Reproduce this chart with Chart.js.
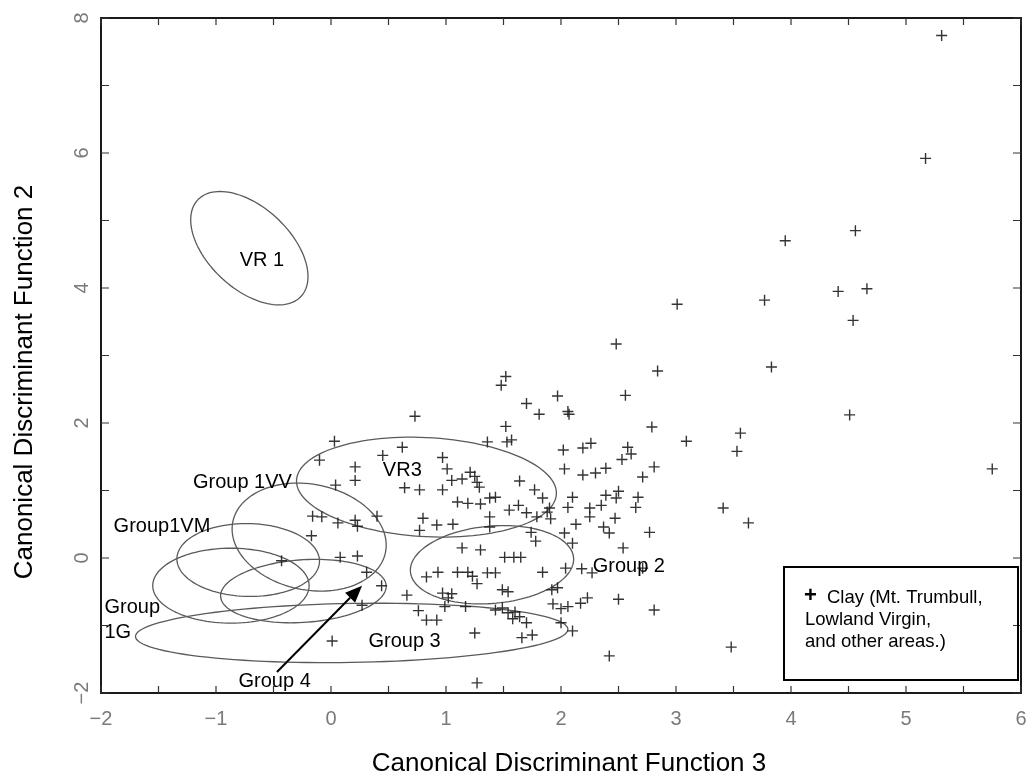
<!DOCTYPE html>
<html>
<head>
<meta charset="utf-8">
<script src="https://cdn.jsdelivr.net/npm/chart.js@4.4.0/dist/chart.umd.min.js"></script>
<style>
  html, body { margin: 0; padding: 0; background: #fff; }
  #wrap { width: 1032px; height: 775px; }
</style>
</head>
<body>
<div id="wrap"><canvas id="cdf" width="1032" height="775"></canvas></div>
<script>
// ── Clay samples: x = Canonical Discriminant Function 3, y = Function 2 ──
const clayX = [
  5.31, 5.17, 3.95, 4.56, 4.41, 4.66, 3.77, 4.54, 3.01, 2.48,
  2.84, 3.83, 1.52, 1.48, 1.97, 2.56, 1.70, 1.81, 2.06, 2.07,
  4.51, 0.73, 1.52, 2.79, 3.56, 3.09, 3.53, 5.75, 0.03, 1.36,
  1.53, 1.57, 2.02, 2.19, 2.26, 2.58, 2.61, 2.53, -0.10, 0.21,
  0.21, 0.45, 0.62, 0.97, 1.01, 2.03, 2.19, 2.30, 2.39, 2.81,
  2.71, 1.21, 1.25, 1.27, 1.05, 1.14, 0.04, 0.64, 0.77, 0.97,
  1.29, 1.64, 1.77, 1.84, 2.10, 2.39, 2.50, 2.67, 2.65, 2.48,
  2.35, 2.25, 2.06, 3.41, 3.63, 1.10, 1.19, 1.30, 1.38, 1.43,
  1.55, 1.63, 1.70, 1.79, 1.88, 1.90, 1.91, 2.25, 2.13, 2.47,
  2.37, 2.42, 2.77, 2.03, 2.10, 1.74, 1.78, 2.54, 1.38, 1.38,
  -0.16, -0.08, 0.06, 0.21, 0.23, 0.40, 0.80, 0.77, 0.92, 1.06,
  -0.17, 0.08, 0.23, -0.43, 0.31, 0.44, 0.27, 0.66, 0.01, 1.25,
  1.27, 1.14, 1.30, 1.51, 1.59, 1.65, 0.83, 0.93, 1.10, 1.19,
  1.23, 1.27, 1.36, 1.43, 1.49, 1.54, 0.97, 1.02, 1.05, 0.99,
  1.17, 0.76, 0.83, 0.92, 1.43, 1.49, 1.54, 1.60, 1.58, 1.64,
  1.70, 1.84, 2.04, 2.18, 2.27, 2.71, 1.92, 1.97, 1.93, 2.00,
  2.06, 2.17, 2.23, 2.50, 2.81, 1.75, 1.66, 2.00, 2.10, 2.42,
  3.48
]
const clayY = [
  7.74, 5.92, 4.70, 4.85, 3.95, 3.99, 3.82, 3.52, 3.76, 3.17,
  2.77, 2.83, 2.69, 2.56, 2.40, 2.41, 2.29, 2.13, 2.17, 2.13,
  2.12, 2.10, 1.95, 1.94, 1.85, 1.73, 1.58, 1.32, 1.73, 1.72,
  1.72, 1.75, 1.60, 1.63, 1.70, 1.64, 1.54, 1.46, 1.45, 1.35,
  1.15, 1.52, 1.64, 1.49, 1.32, 1.32, 1.23, 1.26, 1.33, 1.35,
  1.20, 1.27, 1.21, 1.12, 1.15, 1.17, 1.08, 1.04, 1.01, 1.01,
  1.05, 1.14, 1.01, 0.89, 0.90, 0.93, 0.99, 0.90, 0.75, 0.89,
  0.78, 0.74, 0.75, 0.74, 0.52, 0.83, 0.81, 0.80, 0.89, 0.90,
  0.71, 0.78, 0.67, 0.61, 0.68, 0.74, 0.58, 0.61, 0.50, 0.59,
  0.46, 0.37, 0.38, 0.37, 0.22, 0.38, 0.25, 0.15, 0.61, 0.46,
  0.62, 0.61, 0.52, 0.56, 0.47, 0.62, 0.59, 0.41, 0.49, 0.50,
  0.33, 0.01, 0.03, -0.04, -0.21, -0.41, -0.70, -0.55, -1.23, -1.11,
  -1.85, 0.15, 0.12, 0.01, 0.01, 0.01, -0.28, -0.21, -0.21, -0.21,
  -0.27, -0.38, -0.22, -0.22, -0.47, -0.50, -0.52, -0.59, -0.53, -0.72,
  -0.72, -0.78, -0.92, -0.92, -0.77, -0.74, -0.81, -0.80, -0.90, -0.87,
  -0.96, -0.21, -0.15, -0.16, -0.22, -0.15, -0.47, -0.44, -0.68, -0.75,
  -0.72, -0.67, -0.59, -0.61, -0.77, -1.14, -1.18, -0.96, -1.08, -1.45,
  -1.32
]

// ── Group ellipses: centre, half extent along x / y, tilt (correlation) ──
const groupNames = ["VR 1", "Group1VM", "Group 1VV", "VR3", "Group 2", "Group 4", "Group 1G", "Group 3"]
const groupCX    = [-0.71, -0.72, -0.19, 0.83, 1.40, -0.24, -0.87, 0.18]
const groupCY    = [ 4.59, -0.03,  0.31, 1.05, -0.10, -0.49, -0.41, -1.11]
const groupRX    = [ 0.51,  0.62,  0.67, 1.13, 0.71,  0.72,  0.68, 1.88]
const groupRY    = [ 0.84,  0.54,  0.80, 0.74, 0.58,  0.47,  0.555, 0.44]
const groupRho   = [-0.50, -0.03, -0.15, -0.12, 0.14, 0.15,  0.00, 0.12]

// ── Text labels placed in data coordinates ──
const noteText  = ["VR 1", "VR3", "Group 1VV", "Group1VM", "Group", "1G", "Group 3", "Group 2", "Group 4"]
const noteX     = [-0.60, 0.62, -0.77, -1.47, -1.97, -1.97, 0.64, 2.59, -0.49]
const noteY     = [ 4.41, 1.29,  1.12,  0.46, -0.74, -1.11, -1.23, -0.13, -1.83]
const noteAlign = ["center", "center", "center", "center", "left", "left", "center", "center", "center"]

// arrow from the "Group 4" label into its ellipse
const arrowFrom = [-0.47, -1.69]
const arrowTo   = [0.27, -0.41]

const xTickLabels = [-2, -1, 0, 1, 2, 3, 4, 5, 6]
const yTickLabels = [-2, 0, 2, 4, 6, 8]

const fmt = v => (v < 0 ? "\u2212" + Math.abs(v) : String(v))
const FONT = "'Liberation Sans', Arial, sans-serif"

// ── Plugin: ellipses (behind the points) ─────────────────────────────────
const ellipsePlugin = {
  id: "ellipses",
  beforeDatasetsDraw(chart) {
    const { ctx, scales: { x, y }, chartArea } = chart
    ctx.save()
    ctx.beginPath()
    ctx.rect(chartArea.left, chartArea.top, chartArea.width, chartArea.height)
    ctx.clip()
    ctx.strokeStyle = "#5a5a5a"
    ctx.lineWidth = 1.3
    groupNames.forEach((name, i) => {
      const s = Math.sqrt(1 - groupRho[i] * groupRho[i])
      ctx.beginPath()
      for (let k = 0; k <= 120; k++) {
        const t = (k / 120) * Math.PI * 2
        const dx = groupCX[i] + groupRX[i] * Math.cos(t)
        const dy = groupCY[i] + groupRY[i] * (groupRho[i] * Math.cos(t) + s * Math.sin(t))
        const px = x.getPixelForValue(dx)
        const py = y.getPixelForValue(dy)
        if (k === 0) ctx.moveTo(px, py)
        else ctx.lineTo(px, py)
      }
      ctx.closePath()
      ctx.stroke()
    })
    ctx.restore()
  }
}

// ── Plugin: labels, arrow, frame, inward ticks, y labels, titles, legend ─
const decorPlugin = {
  id: "decor",
  afterDatasetsDraw(chart) {
    const { ctx, scales: { x, y } } = chart
    ctx.save()
    ctx.fillStyle = "#000"
    ctx.font = "20px " + FONT
    ctx.textBaseline = "middle"
    noteText.forEach((txt, i) => {
      ctx.textAlign = noteAlign[i]
      ctx.fillText(txt, x.getPixelForValue(noteX[i]), y.getPixelForValue(noteY[i]))
    })

    // arrow
    const x0 = x.getPixelForValue(arrowFrom[0]), y0 = y.getPixelForValue(arrowFrom[1])
    const x1 = x.getPixelForValue(arrowTo[0]),   y1 = y.getPixelForValue(arrowTo[1])
    const ang = Math.atan2(y1 - y0, x1 - x0)
    const head = 17, half = 7
    const bx = x1 - head * Math.cos(ang), by = y1 - head * Math.sin(ang)
    ctx.strokeStyle = "#000"
    ctx.lineWidth = 2
    ctx.beginPath()
    ctx.moveTo(x0, y0)
    ctx.lineTo(bx, by)
    ctx.stroke()
    ctx.beginPath()
    ctx.moveTo(x1, y1)
    ctx.lineTo(bx + half * Math.sin(ang), by - half * Math.cos(ang))
    ctx.lineTo(bx - half * Math.sin(ang), by + half * Math.cos(ang))
    ctx.closePath()
    ctx.fill()
    ctx.restore()
  },
  afterDraw(chart) {
    const { ctx, chartArea: a, scales: { x, y } } = chart
    ctx.save()

    // frame
    ctx.strokeStyle = "#1a1a1a"
    ctx.lineWidth = 2
    ctx.strokeRect(a.left, a.top, a.width, a.height)

    // inward ticks
    ctx.lineWidth = 1.2
    ctx.strokeStyle = "#333"
    ctx.beginPath()
    x.ticks.forEach(t => {
      const px = x.getPixelForValue(t.value)
      ctx.moveTo(px, a.bottom); ctx.lineTo(px, a.bottom - 7)
      ctx.moveTo(px, a.top);    ctx.lineTo(px, a.top + 7)
    })
    y.ticks.forEach(t => {
      const py = y.getPixelForValue(t.value)
      ctx.moveTo(a.left, py);  ctx.lineTo(a.left + 8, py)
      ctx.moveTo(a.right, py); ctx.lineTo(a.right - 8, py)
    })
    ctx.stroke()

    // rotated y tick labels
    ctx.fillStyle = "#7a7a7a"
    ctx.font = "20px " + FONT
    ctx.textAlign = "center"
    ctx.textBaseline = "middle"
    yTickLabels.forEach(v => {
      ctx.save()
      ctx.translate(a.left - 19, y.getPixelForValue(v))
      ctx.rotate(-Math.PI / 2)
      ctx.fillText(fmt(v), 0, 0)
      ctx.restore()
    })

    // axis titles
    ctx.fillStyle = "#000"
    ctx.font = "26px " + FONT
    ctx.textBaseline = "alphabetic"
    ctx.fillText("Canonical Discriminant Function 3", 569, 771)
    ctx.save()
    ctx.translate(32, 382)
    ctx.rotate(-Math.PI / 2)
    ctx.fillText("Canonical Discriminant Function 2", 0, 0)
    ctx.restore()

    // legend box
    ctx.strokeStyle = "#000"
    ctx.lineWidth = 2
    ctx.strokeRect(784, 567, 234, 113)
    ctx.textAlign = "left"
    ctx.textBaseline = "middle"
    ctx.font = "bold 22px " + FONT
    ctx.fillText("+", 804, 596)
    ctx.font = "18.5px " + FONT
    ctx.fillText("Clay (Mt. Trumbull,", 827, 598)
    ctx.fillText("Lowland Virgin,", 805, 620)
    ctx.fillText("and other areas.)", 805, 642)
    ctx.restore()
  }
}

new Chart(document.getElementById("cdf"), {
  type: "scatter",
  data: {
    datasets: [{
      label: "Clay (Mt. Trumbull, Lowland Virgin, and other areas.)",
      data: clayX.map((v, i) => ({ x: v, y: clayY[i] })),
      pointStyle: "cross",
      pointRadius: 5.5,
      pointBorderWidth: 1.4,
      borderColor: "rgba(30,30,30,0.9)",
      backgroundColor: "rgba(30,30,30,0.9)"
    }]
  },
  options: {
    responsive: false,
    animation: false,
    layout: { padding: { top: 18, right: 11, left: 0, bottom: 0 } },
    plugins: { legend: { display: false }, tooltip: { enabled: false } },
    scales: {
      x: {
        type: "linear",
        min: -2, max: 6,
        afterFit: s => { s.height = 82; s.paddingLeft = 0; s.paddingRight = 0 },
        border: { display: false },
        grid: { display: false, drawTicks: false },
        ticks: {
          stepSize: 0.5,
          autoSkip: false,
          maxRotation: 0,
          padding: 14,
          color: "#7a7a7a",
          font: { family: FONT, size: 20 },
          callback: v => (xTickLabels.includes(v) ? fmt(v) : "")
        }
      },
      y: {
        type: "linear",
        min: -2, max: 8,
        afterFit: s => { s.width = 101 },
        border: { display: false },
        grid: { display: false, drawTicks: false },
        ticks: { stepSize: 1, display: false }
      }
    }
  },
  plugins: [ellipsePlugin, decorPlugin]
})
</script>
</body>
</html>
